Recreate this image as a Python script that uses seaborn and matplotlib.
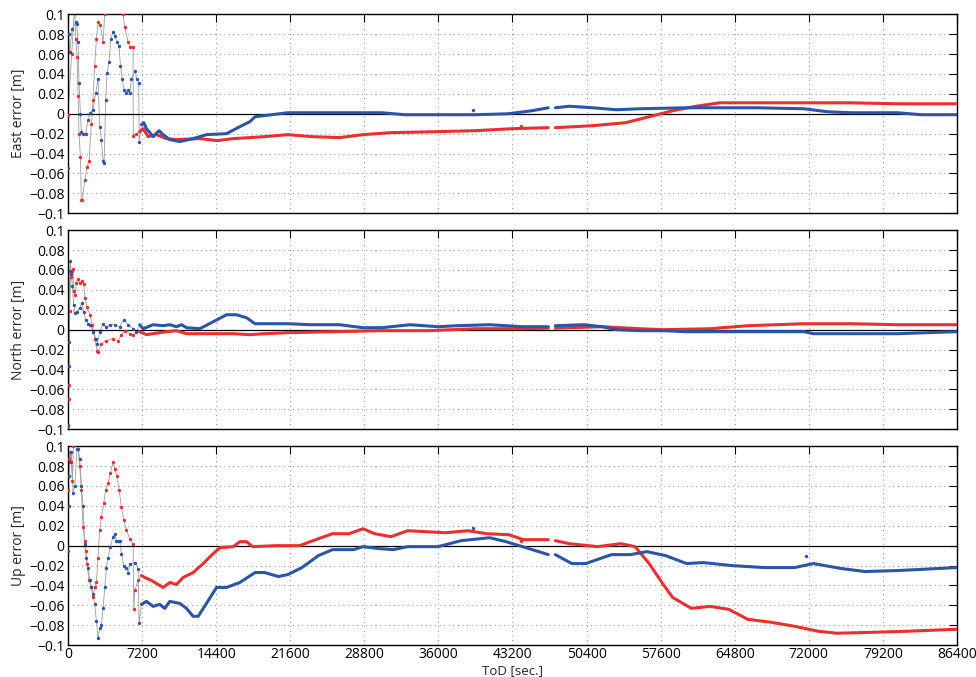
import numpy as np
import pandas as pd
import matplotlib.pyplot as plt
import matplotlib.ticker as mticker
import seaborn as sns

nan = np.nan
RED = "#eb2f2f"
BLUE = "#2b55a6"
GRAY = "#9c9c9c"
DOT_END = 6950  # before this the solution is still converging -> draw as dots

# ── East ─────────────────────────────────────────────────────────────────────
east_red_t = [0, 350, 650, 746, 876, 973, 1070, 1200, 1297, 1394, 1621, 1848, 2043, 2270,
              2432, 2594, 2757, 2919, 3146, 3405, 3567, 4000, 4800, 5351, 5513, 5837, 6064,
              6324, 6340, 6648, 6972, 7297, 7783, 8594, 9567, 10540, 12810, 14500, 16053,
              17675, 19092, 21372, 23652, 26388, 28668, 31404, 35964, 39612, 43260, 46680,
              nan, 47364, 51012, 54204, 56484, 58764, 61044, 63324, 66972, 71532, 76092,
              80652, 86400]
east_red_v = [-0.001, 0.060, 0.110, 0.075, 0.057, 0.018, -0.020, -0.043, -0.087, -0.087,
              -0.067, -0.054, -0.047, -0.010, 0.014, 0.048, 0.075, 0.092, 0.089, 0.072,
              0.100, 0.130, 0.130, 0.100, 0.087, 0.072, 0.067, 0.067, -0.022, -0.020,
              -0.018, -0.015, -0.023, -0.021, -0.025, -0.026, -0.025, -0.027, -0.025,
              -0.024, -0.023, -0.021, -0.023, -0.024, -0.021, -0.019, -0.018, -0.017,
              -0.015, -0.014, nan, -0.014, -0.012, -0.009, -0.003, 0.003, 0.0075, 0.011,
              0.011, 0.011, 0.011, 0.010, 0.010]
east_blue_t = [0, 65, 150, 400, 746, 850, 973, 1070, 1200, 1297, 1459, 1719, 1946, 2173,
               2432, 2692, 2919, 3081, 3243, 3405, 3502, 3665, 3794, 3989, 4151, 4378, 4540,
               4767, 4962, 5091, 5286, 5416, 5610, 5837, 5999, 6162, 6486, 6713, 6875, 6908,
               7135, 7362, 7621, 8270, 8853, 9243, 9891, 10864, 12161, 13458, 15404, 16701,
               17675, 18180, 21372, 25932, 30492, 32772, 37332, 39612, 42804, 45084, 46680,
               nan, 47364, 48732, 51012, 53292, 55572, 60132, 62412, 66972, 71532, 73812,
               76092, 80652, 82932, 86400]
east_blue_v = [-0.055, 0.080, 0.062, 0.085, 0.092, 0.090, 0.072, 0.031, 0.000, -0.018,
               -0.020, -0.020, -0.006, 0.001, 0.004, 0.021, 0.035, -0.013, -0.026, -0.047,
               -0.050, 0.014, 0.041, 0.052, 0.075, 0.082, 0.078, 0.072, 0.068, 0.048, 0.035,
               0.024, 0.021, 0.024, 0.021, 0.035, 0.043, 0.035, 0.031, -0.028, -0.011,
               -0.009, -0.015, -0.023, -0.017, -0.021, -0.026, -0.028, -0.025, -0.021,
               -0.020, -0.013, -0.008, -0.003, 0.001, 0.001, 0.001, -0.001, -0.001, -0.001,
               0.000, 0.003, 0.006, nan, 0.006, 0.0075, 0.006, 0.004, 0.005, 0.006, 0.006,
               0.006, 0.005, 0.002, 0.001, 0.001, -0.001, -0.001]
east_red_odd_t, east_red_odd_v = [44040], [-0.012]
east_blue_odd_t, east_blue_odd_v = [39384], [0.004]

# ── North ────────────────────────────────────────────────────────────────────
north_red_t = [0, 65, 97, 162, 259, 389, 486, 551, 681, 811, 940, 1135, 1394, 1524, 1654,
               1848, 2108, 2367, 2594, 2821, 2919, 3243, 3729, 4378, 4864, 5189, 5513, 5999,
               6324, 6972, 7621, 9567, 10540, 11513, 13458, 16053, 17675, 19092, 21372,
               25932, 30492, 35052, 39612, 44172, 46680, nan, 47364, 48732, 51924, 55572,
               57852, 62412, 66060, 71532, 76092, 80652, 86400]
north_red_v = [-0.097, -0.070, -0.056, 0.019, 0.053, 0.059, 0.061, 0.039, 0.035, 0.047,
               0.051, 0.047, 0.049, 0.046, 0.032, 0.023, 0.015, 0.005, -0.009, -0.021,
               -0.022, -0.014, -0.011, -0.009, -0.011, -0.005, -0.001, -0.004, -0.005,
               -0.002, -0.005, -0.002, -0.001, -0.004, -0.004, -0.004, -0.005, -0.004,
               -0.003, -0.002, -0.001, -0.001, 0.001, 0.001, 0.0015, nan, 0.0015, 0.002,
               0.003, 0.001, 0.000, 0.001, 0.004, 0.006, 0.006, 0.005, 0.005]
north_blue_t = [0, 65, 97, 162, 227, 324, 422, 551, 681, 876, 1135, 1362, 1524, 1719, 1946,
                2173, 2432, 2692, 2854, 3081, 3405, 3729, 4054, 4540, 5027, 5416, 5837, 6324,
                6648, 6972, 7297, 8270, 9243, 9891, 10540, 11026, 11513, 12810, 14107, 15404,
                16377, 17350, 18180, 21372, 23652, 26388, 28668, 30492, 33228, 35964, 37788,
                40980, 44172, 46680, nan, 47364, 50100, 51924, 53292, 55572, 57852, 60132,
                66972, 71532, 72444, 76092, 80652, 86400]
north_blue_v = [-0.096, -0.036, -0.012, 0.059, 0.069, 0.056, 0.044, 0.025, 0.017, 0.018,
                0.022, 0.027, 0.018, 0.010, 0.006, 0.005, -0.002, -0.009, -0.014, -0.002,
                0.006, 0.003, 0.005, 0.005, 0.003, 0.010, 0.005, 0.001, -0.002, 0.005, 0.001,
                0.005, 0.004, 0.005, 0.003, 0.005, 0.002, 0.001, 0.008, 0.015, 0.015, 0.012,
                0.006, 0.006, 0.005, 0.005, 0.002, 0.002, 0.005, 0.003, 0.004, 0.005, 0.003,
                0.003, nan, 0.004, 0.005, 0.003, 0.000, -0.001, -0.001, -0.002, -0.002,
                -0.002, -0.004, -0.004, -0.004, -0.002]

# ── Up ───────────────────────────────────────────────────────────────────────
up_red_t = [0, 97, 227, 324, 422, 519, 700, 900, 1135, 1297, 1459, 1621, 1719, 1848, 2043,
            2270, 2432, 2594, 2757, 2919, 3081, 3243, 3470, 3665, 3892, 4119, 4378, 4540,
            4767, 4962, 5189, 5416, 5675, 5999, 6324, 6389, 6486, 6810, 7135, 7459, 8108,
            8756, 9243, 9891, 10540, 11188, 12161, 13134, 14107, 14756, 16053, 16701, 17350,
            17952, 20232, 22512, 24336, 25704, 27300, 28668, 29808, 31404, 33000, 34824,
            36648, 38880, 40700, 42860, 44250, 46680, nan, 47364, 48732, 51468, 53748, 55116,
            56484, 57852, 58764, 60588, 62412, 64236, 66060, 68340, 70620, 72900, 74724,
            78372, 81564, 86400]
up_red_v = [0.056, 0.087, 0.094, 0.084, 0.065, 0.100, 0.110, 0.105, 0.080, 0.056, 0.019,
            0.005, -0.005, -0.018, -0.035, -0.042, -0.052, -0.042, -0.037, -0.012, 0.016,
            0.029, 0.043, 0.056, 0.063, 0.073, 0.084, 0.077, 0.070, 0.056, 0.039, 0.026,
            0.016, 0.007, 0.002, -0.064, -0.045, -0.035, -0.030, -0.032, -0.035, -0.039,
            -0.042, -0.037, -0.039, -0.032, -0.027, -0.018, -0.008, -0.002, -0.001, 0.004,
            0.004, -0.001, 0.000, 0.000, 0.007, 0.012, 0.012, 0.017, 0.012, 0.009, 0.015,
            0.014, 0.013, 0.015, 0.012, 0.011, 0.006, 0.006, nan, 0.005, 0.002, -0.001,
            0.002, -0.001, -0.018, -0.039, -0.052, -0.063, -0.061, -0.064, -0.074, -0.077,
            -0.081, -0.086, -0.088, -0.087, -0.086, -0.084]
up_blue_t = [0, 65, 97, 162, 324, 486, 649, 876, 1005, 1135, 1297, 1459, 1621, 1784, 1946,
             2108, 2270, 2432, 2594, 2757, 2919, 3081, 3243, 3405, 3567, 3729, 3892, 4119,
             4378, 4540, 4702, 4864, 5027, 5189, 5416, 5675, 5837, 6064, 6486, 6810, 6908,
             7135, 7621, 8270, 8918, 9405, 9891, 10864, 11513, 12161, 12648, 13458, 14432,
             15404, 16701, 18180, 19092, 20460, 21372, 22740, 24336, 25704, 27756, 28668,
             30264, 31632, 33000, 35964, 38196, 40980, 42576, 44172, 46680, nan, 47364,
             48960, 50328, 51696, 52836, 54660, 56256, 58080, 60132, 61728, 64464, 67656,
             70620, 72444, 75180, 77460, 80652, 86400]
up_blue_v = [-0.005, 0.040, 0.070, 0.084, 0.094, 0.053, 0.060, 0.097, 0.097, 0.087, 0.060,
             0.040, 0.002, -0.012, -0.022, -0.035, -0.042, -0.049, -0.059, -0.076, -0.093,
             -0.083, -0.080, -0.063, -0.042, -0.022, -0.012, -0.001, 0.009, 0.012, 0.005,
             0.005, 0.005, -0.008, -0.020, -0.022, -0.027, -0.018, -0.017, -0.023, -0.078,
             -0.059, -0.056, -0.061, -0.059, -0.063, -0.056, -0.058, -0.063, -0.071, -0.071,
             -0.058, -0.042, -0.042, -0.037, -0.027, -0.027, -0.031, -0.029, -0.022, -0.010,
             -0.004, -0.004, -0.001, -0.003, -0.004, -0.001, -0.001, 0.005, 0.008, 0.004,
             -0.001, -0.009, nan, -0.009, -0.018, -0.018, -0.013, -0.009, -0.009, -0.006,
             -0.010, -0.018, -0.017, -0.020, -0.022, -0.022, -0.018, -0.023, -0.026, -0.025,
             -0.022]
up_red_odd_t, up_red_odd_v = [44040], [0.005]
up_blue_odd_t, up_blue_odd_v = [39384, 71760], [0.018, -0.010]

x_ticks = [0, 7200, 14400, 21600, 28800, 36000, 43200, 50400, 57600, 64800, 72000, 79200, 86400]
y_ticks = [-0.1, -0.08, -0.06, -0.04, -0.02, 0, 0.02, 0.04, 0.06, 0.08, 0.1]
ylabels = ["East error [m]", "North error [m]", "Up error [m]"]

panels = [
    [(east_red_t, east_red_v, RED), (east_blue_t, east_blue_v, BLUE)],
    [(north_red_t, north_red_v, RED), (north_blue_t, north_blue_v, BLUE)],
    [(up_red_t, up_red_v, RED), (up_blue_t, up_blue_v, BLUE)],
]
oddballs = [
    [(east_red_odd_t, east_red_odd_v, RED), (east_blue_odd_t, east_blue_odd_v, BLUE)],
    [],
    [(up_red_odd_t, up_red_odd_v, RED), (up_blue_odd_t, up_blue_odd_v, BLUE)],
]

sns.set_theme(style="white")
plt.rcParams["font.family"] = ["Open Sans", "DejaVu Sans"]
plt.rcParams["axes.unicode_minus"] = True


def draw_series(ax, t, v, color):
    d = pd.DataFrame({"t": t, "v": v})
    d["seg"] = d["v"].isna().cumsum()
    # thin gray connector under everything (breaks at the data gap)
    ax.plot(d["t"], d["v"], color=GRAY, lw=0.6, zorder=2)
    d = d.dropna()
    early = d[d["t"] < DOT_END]
    late = d[d["t"] >= DOT_END]
    sns.scatterplot(data=early, x="t", y="v", color=color, s=6, linewidth=0,
                    ax=ax, zorder=3, legend=False)
    sns.lineplot(data=late, x="t", y="v", units="seg", estimator=None, sort=False,
                 color=color, lw=2.2, ax=ax, zorder=3, legend=False)


def ytick_fmt(val, _):
    val = round(val, 2)
    if val == 0:
        return "0"
    return f"{val:g}".replace("-", "\u2212")


fig = plt.figure(figsize=(9.76, 6.77), dpi=100)
gs = fig.add_gridspec(3, 1, left=0.0697, right=0.9805, top=0.979, bottom=0.047, hspace=0.085)

for i in range(3):
    ax = fig.add_subplot(gs[i])
    ax.axhline(0, color="black", lw=0.9, zorder=2.5)
    for t, v, c in panels[i]:
        draw_series(ax, t, v, c)
    for t, v, c in oddballs[i]:
        ax.scatter(t, v, color=c, s=6, linewidths=0, zorder=3)

    ax.set_xlim(0, 86400)
    ax.set_ylim(-0.1, 0.1)
    ax.set_xticks(x_ticks)
    ax.set_yticks(y_ticks)
    ax.yaxis.set_major_formatter(mticker.FuncFormatter(ytick_fmt))
    ax.grid(True, which="major", color="#666666", linestyle=(0, (1, 4.5)), lw=0.6)
    ax.set_axisbelow(True)
    ax.tick_params(direction="in", length=6, width=0.8, top=True, right=True,
                   labelsize=10, colors="black")
    ax.tick_params(axis="y", pad=2.5)
    ax.tick_params(axis="x", pad=1.2)
    for s in ax.spines.values():
        s.set_color("black")
        s.set_linewidth(1.0)
    ax.set_ylabel(ylabels[i], fontsize=10, labelpad=2)
    if i < 2:
        ax.tick_params(labelbottom=False)
        ax.set_xlabel("")
    else:
        ax.set_xlabel("ToD [sec.]", fontsize=9.5, va="bottom")
        ax.xaxis.set_label_coords(0.5, -0.16)

fig.savefig("out.png", dpi=100)
